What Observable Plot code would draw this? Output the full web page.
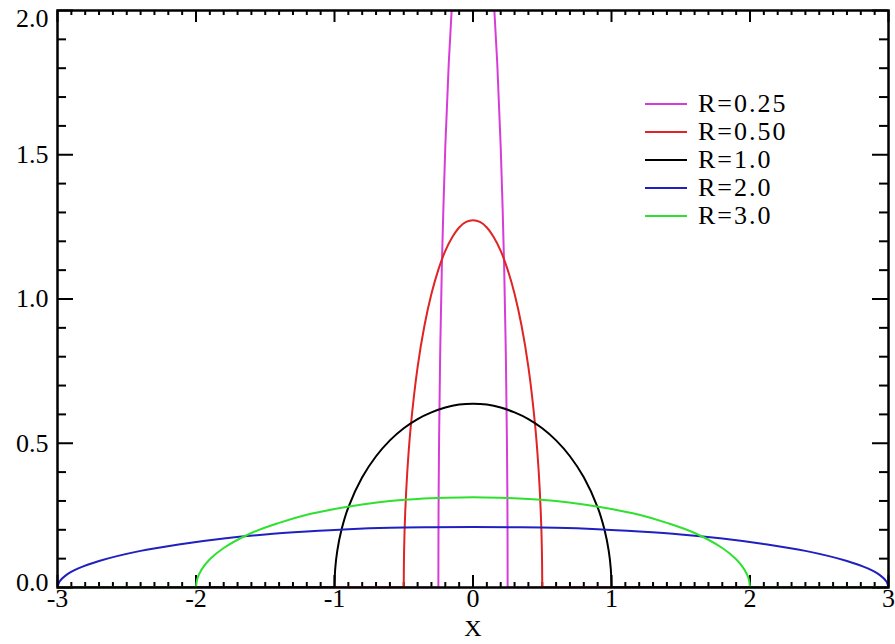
<!DOCTYPE html>
<html>
<head>
<meta charset="utf-8">
<script src="https://cdn.jsdelivr.net/npm/d3@7"></script>
<script src="https://cdn.jsdelivr.net/npm/@observablehq/plot@0.6"></script>
<style>
  html, body { margin: 0; padding: 0; background: #fff; }
  #wrap { position: relative; width: 895px; height: 644px; font-family: "Liberation Serif", "Times New Roman", serif; }
  #wrap svg text { font-family: "Liberation Serif", "Times New Roman", serif; }
  #legend { position: absolute; left: 645px; top: 90px; }
  .row { height: 28px; display: flex; align-items: center; font-size: 26px; letter-spacing: 2px; color: #000; }
  .sw { width: 42px; height: 2px; margin-right: 11px; }
</style>
</head>
<body>
<div id="wrap"></div>
<script>
// ---- data ----
const xR025 = [-3, -0.25, -0.2488, -0.245, -0.2375, -0.225, -0.2, -0.175, -0.15, -0.125, -0.1, -0.075, -0.05, -0.025, 0,
               0.025, 0.05, 0.075, 0.1, 0.125, 0.15, 0.175, 0.2, 0.225, 0.2375, 0.245, 0.2488, 0.25, 3];
const yR025 = [0, 0, 0.254, 0.507, 0.794, 1.110, 1.528, 1.818, 2.037, 2.205, 2.333, 2.429, 2.495, 2.533, 2.546,
               2.533, 2.495, 2.429, 2.333, 2.205, 2.037, 1.818, 1.528, 1.110, 0.794, 0.507, 0.254, 0, 0];

const xR050 = [-3, -0.5, -0.4975, -0.49, -0.475, -0.45, -0.4, -0.35, -0.3, -0.25, -0.2, -0.15, -0.1, -0.05, 0,
               0.05, 0.1, 0.15, 0.2, 0.25, 0.3, 0.35, 0.4, 0.45, 0.475, 0.49, 0.4975, 0.5, 3];
const yR050 = [0, 0, 0.127, 0.253, 0.397, 0.555, 0.764, 0.909, 1.018, 1.102, 1.167, 1.214, 1.248, 1.267, 1.273,
               1.267, 1.248, 1.214, 1.167, 1.102, 1.018, 0.909, 0.764, 0.555, 0.397, 0.253, 0.127, 0, 0];

const xR10 = [-3, -1, -0.995, -0.98, -0.95, -0.9, -0.8, -0.7, -0.6, -0.5, -0.4, -0.3, -0.2, -0.1, 0,
              0.1, 0.2, 0.3, 0.4, 0.5, 0.6, 0.7, 0.8, 0.9, 0.95, 0.98, 0.995, 1, 3];
const yR10 = [0, 0, 0.064, 0.127, 0.199, 0.278, 0.382, 0.455, 0.510, 0.552, 0.584, 0.607, 0.624, 0.634, 0.637,
              0.634, 0.624, 0.607, 0.584, 0.552, 0.510, 0.455, 0.382, 0.278, 0.199, 0.127, 0.064, 0, 0];

// blue curve (labelled R=2.0 in the legend), spans -3..3
const xR20 = [-3, -2.985, -2.94, -2.85, -2.7, -2.4, -2.1, -1.8, -1.5, -1.2, -0.9, -0.6, -0.3, 0,
              0.3, 0.6, 0.9, 1.2, 1.5, 1.8, 2.1, 2.4, 2.7, 2.85, 2.94, 2.985, 3];
const yR20 = [0, 0.021, 0.042, 0.066, 0.092, 0.127, 0.151, 0.170, 0.184, 0.194, 0.202, 0.207, 0.209, 0.210,
              0.209, 0.207, 0.202, 0.194, 0.184, 0.170, 0.151, 0.127, 0.092, 0.066, 0.042, 0.021, 0];

// green curve (labelled R=3.0 in the legend), spans -2..2
const xR30 = [-3, -2, -1.99, -1.96, -1.9, -1.8, -1.6, -1.4, -1.2, -1.0, -0.8, -0.6, -0.4, -0.2, 0,
              0.2, 0.4, 0.6, 0.8, 1.0, 1.2, 1.4, 1.6, 1.8, 1.9, 1.96, 1.99, 2, 3];
const yR30 = [0, 0, 0.031, 0.062, 0.098, 0.137, 0.189, 0.224, 0.252, 0.272, 0.288, 0.300, 0.307, 0.311, 0.313,
              0.311, 0.307, 0.300, 0.288, 0.272, 0.252, 0.224, 0.189, 0.137, 0.098, 0.062, 0.031, 0, 0];

const seriesLabels = ["R=0.25", "R=0.50", "R=1.0", "R=2.0", "R=3.0"];
const seriesColors = ["#d83cd8", "#e02424", "#000000", "#2020c0", "#30e030"];
const seriesX = [xR025, xR050, xR10, xR20, xR30];
const seriesY = [yR025, yR050, yR10, yR20, yR30];

const xTicks = [-3, -2, -1, 0, 1, 2, 3];
const xTickLabels = ["-3", "-2", "-1", "0", "1", "2", "3"];
const yTicks = [0, 0.5, 1.0, 1.5, 2.0];
const yTickLabels = ["0.0", "0.5", "1.0", "1.5", "2.0"];
const xTitle = "X";

// ---- build ----
const FONT = '"Liberation Serif", "Times New Roman", serif';
const FS = 26;
const W = 895, H = 644, mL = 57, mR = 7, mT = 10, mB = 57;
const fw = W - mL - mR, fh = H - mT - mB;
const xMinor = d3.range(-30, 31).map(i => i / 10).filter(v => Math.abs(v - Math.round(v)) > 1e-9);
const yMinor = d3.range(0, 21).map(i => i / 10).filter(v => Math.abs(v * 2 - Math.round(v * 2)) > 1e-9);

// split each series into baseline pieces (straight) and the arc (smooth)
function pieces(xs, ys) {
  const rows = xs.map((x, i) => ({x, y: ys[i]}));
  let a = 0; while (a + 1 < rows.length && rows[a].y === 0 && rows[a + 1].y === 0) a++;
  let b = rows.length - 1; while (b - 1 >= 0 && rows[b].y === 0 && rows[b - 1].y === 0) b--;
  return {
    base: [...(a > 0 ? rows.slice(0, a + 1).map(r => ({...r, z: "L"})) : []),
           ...(b < rows.length - 1 ? rows.slice(b).map(r => ({...r, z: "R"})) : [])],
    arc: rows.slice(a, b + 1)
  };
}

const lineMarks = [];
seriesX.forEach((xs, k) => {
  const p = pieces(xs, seriesY[k]);
  if (p.base.length) lineMarks.push(Plot.line(p.base, {x: "x", y: "y", z: "z", stroke: seriesColors[k], strokeWidth: 2, clip: true}));
  lineMarks.push(Plot.line(p.arc, {x: "x", y: "y", stroke: seriesColors[k], strokeWidth: 2, curve: "catmull-rom", clip: true}));
});

const tickStyle = {stroke: "black", strokeWidth: 2};
const txt = {fontSize: FS, fill: "black", fontFamily: FONT};
const plot = Plot.plot({
  width: W, height: H,
  marginLeft: mL, marginRight: mR, marginTop: mT, marginBottom: mB,
  style: {fontFamily: FONT, background: "white", color: "black"},
  x: {domain: [-3, 3], axis: null},
  y: {domain: [0, 2], axis: null},
  marks: [
    Plot.tickX(xMinor, {x: d => d, insetTop: fh - 5, ...tickStyle}),
    Plot.tickX(xTicks, {x: d => d, insetTop: fh - 12, ...tickStyle}),
    Plot.tickX(xMinor, {x: d => d, insetBottom: fh - 5, ...tickStyle}),
    Plot.tickX(xTicks, {x: d => d, insetBottom: fh - 12, ...tickStyle}),
    Plot.tickY(yMinor, {y: d => d, insetRight: fw - 9, ...tickStyle}),
    Plot.tickY(yTicks, {y: d => d, insetRight: fw - 16, ...tickStyle}),
    Plot.tickY(yMinor, {y: d => d, insetLeft: fw - 9, ...tickStyle}),
    Plot.tickY(yTicks, {y: d => d, insetLeft: fw - 16, ...tickStyle}),
    ...lineMarks,
    Plot.frame({stroke: "black", strokeWidth: 2.5}),
    Plot.text(xTicks, {x: d => d, text: (d, i) => xTickLabels[i], frameAnchor: "bottom", dy: 19, ...txt}),
    Plot.text(yTicks.slice(1, 4), {y: d => d, text: (d, i) => yTickLabels[i + 1], frameAnchor: "left", dx: -9, textAnchor: "end", ...txt}),
    Plot.text([yTicks[0]], {y: d => d, text: [yTickLabels[0]], frameAnchor: "left", dx: -9, dy: -5, textAnchor: "end", ...txt}),
    Plot.text([yTicks[4]], {y: d => d, text: [yTickLabels[4]], frameAnchor: "left", dx: -9, dy: 8, textAnchor: "end", ...txt}),
    Plot.text([xTitle], {x: 0, text: d => d, frameAnchor: "bottom", dy: 48, ...txt, fontSize: 24})
  ]
});

const wrap = document.getElementById("wrap");
wrap.appendChild(plot);
const leg = document.createElement("div");
leg.id = "legend";
seriesLabels.forEach((lab, k) => {
  const row = document.createElement("div");
  row.className = "row";
  const sw = document.createElement("div");
  sw.className = "sw";
  sw.style.background = seriesColors[k];
  const t = document.createElement("span");
  t.textContent = lab;
  row.appendChild(sw);
  row.appendChild(t);
  leg.appendChild(row);
});
wrap.appendChild(leg);
</script>
</body>
</html>
